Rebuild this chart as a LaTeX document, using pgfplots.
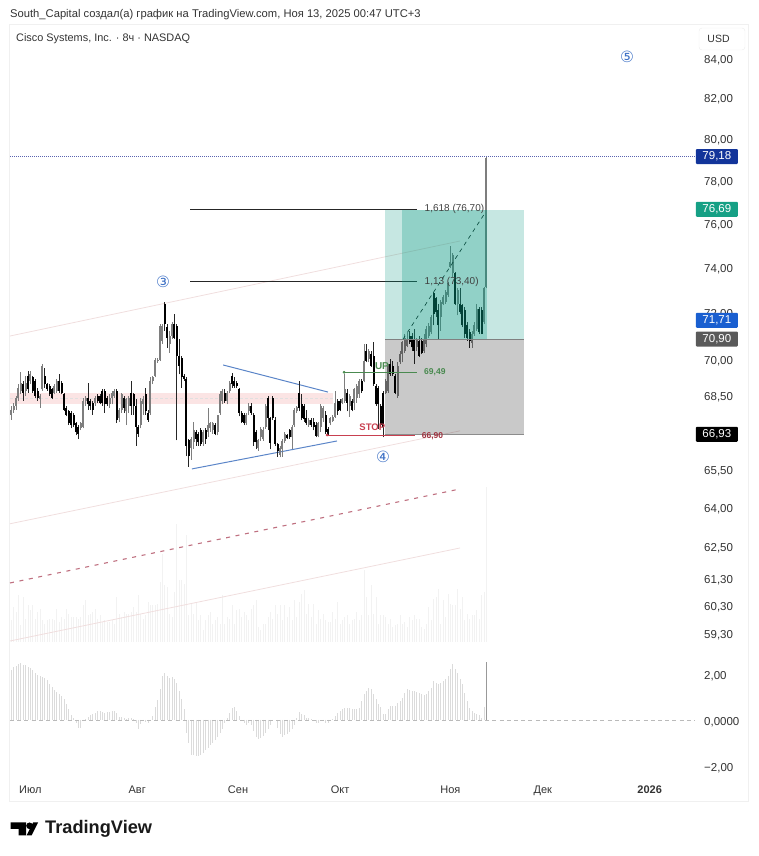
\documentclass[border=0pt]{standalone}
\usepackage{pgfplots}
\usepackage{pgfplotstable}
\usepackage{fontspec}
\pgfplotsset{compat=1.18}
\setmainfont{Liberation Sans}
\newfontfamily\djv{DejaVu Sans}
\definecolor{txt}{HTML}{333333}
\definecolor{band}{HTML}{FBE4E4}
\definecolor{chan}{HTML}{F0DEDE}
\definecolor{reddash}{HTML}{BF7080}
\definecolor{bl}{HTML}{5B85C8}
\definecolor{circ}{HTML}{3F72C6}
\definecolor{upc}{HTML}{7E7E7E}
\definecolor{tl}{HTML}{089981}
\definecolor{gr}{HTML}{4A8A50}
\definecolor{rd}{HTML}{C84050}
\definecolor{tA}{HTML}{12349A}
\definecolor{tB}{HTML}{16A085}
\definecolor{tC}{HTML}{1A5FD0}
\definecolor{tD}{HTML}{5A5A5A}
\definecolor{dotc}{HTML}{5A63B0}

\pgfplotstableread{
x h l t b
0 68.08 67.52 67.94 67.73
1 68.22 67.80 68.08 67.94
2 68.50 67.94 68.43 68.08
3 68.99 68.29 68.85 68.43
4 69.52 68.57 69.06 68.71
6 69.34 68.50 69.06 68.71
8 69.55 68.99 69.41 69.13
12 68.57 68.01 68.50 68.36
13 69.83 68.71 69.76 68.78
18 68.99 68.57 68.92 68.64
19 69.20 68.64 69.13 68.71
29 67.45 67.10 67.38 67.17
30 68.43 67.17 68.29 67.24
31 68.50 68.08 68.43 68.29
35 68.50 68.08 68.43 68.22
41 68.57 68.01 68.43 68.15
42 68.71 68.15 68.64 68.43
43 68.78 68.43 68.71 68.50
45 68.01 67.45 67.94 67.59
46 68.64 67.80 68.57 67.94
48 68.43 67.31 68.36 67.87
49 68.50 67.80 68.43 68.08
54 68.43 67.17 68.29 67.31
55 68.50 67.73 68.36 68.15
58 69.27 67.73 69.13 67.80
59 69.34 68.99 69.27 69.13
60 70.10 69.27 70.03 69.34
61 70.10 69.89 70.03 69.96
62 71.55 69.96 71.48 70.03
63 71.55 70.69 71.48 70.83
66 71.26 70.32 71.05 70.69
67 71.63 70.90 71.55 71.05
75 66.82 65.91 66.75 66.40
76 67.45 66.33 67.10 66.61
80 67.10 66.47 67.03 66.61
82 68.01 66.82 67.31 67.03
83 67.45 67.03 67.38 67.17
84 67.45 66.96 67.38 67.10
86 67.73 66.89 67.73 67.03
87 68.71 67.73 68.57 67.80
88 68.78 68.15 68.71 68.29
90 68.71 68.15 68.64 68.29
91 69.13 68.64 69.06 68.71
98 67.80 67.31 67.73 67.38
99 68.22 67.73 68.08 67.87
103 66.75 66.26 66.68 66.40
104 67.23 66.67 67.16 66.81
105 67.23 66.67 67.09 66.74
106 68.15 67.16 68.08 67.23
112 66.46 66.00 66.39 66.10
113 66.74 66.03 66.67 66.32
114 67.02 66.60 66.95 66.67
117 67.30 66.32 67.23 66.81
118 68.01 67.23 67.94 67.30
119 68.08 67.80 68.04 67.87
124 67.58 67.23 67.51 67.30
128 67.44 66.81 67.37 66.88
129 68.15 67.02 68.08 67.23
130 68.08 67.44 68.01 67.58
133 67.65 67.30 67.58 67.37
134 67.73 67.44 67.65 67.47
135 68.71 67.58 68.22 67.65
138 68.43 68.15 68.36 68.22
139 69.42 68.22 68.78 68.29
141 68.57 67.65 68.50 68.08
143 68.85 67.94 68.78 68.22
144 68.99 68.22 68.92 68.43
145 69.21 68.43 69.14 68.57
147 70.69 69.07 69.98 69.14
149 70.47 69.91 70.40 70.05
156 69.21 68.57 69.14 68.64
157 69.84 68.64 69.77 68.71
161 69.91 68.43 69.77 68.50
162 70.40 69.84 70.26 69.91
163 70.83 69.91 70.76 70.26
164 71.11 70.33 70.97 70.40
165 71.18 70.55 70.90 70.62
169 70.97 70.40 70.90 70.55
172 71.11 70.33 70.90 70.40
173 71.46 70.55 71.32 70.69
174 71.60 70.97 71.46 71.04
175 71.93 71.12 71.86 71.19
179 72.59 71.27 72.52 71.86
180 72.81 72.37 72.74 72.44
181 73.03 72.44 72.96 72.52
182 73.40 72.74 73.33 72.81
183 75.00 74.01 74.31 74.09
184 74.70 73.63 74.62 73.78
186 73.11 71.93 73.03 72.44
192 71.27 70.53 71.12 70.75
193 71.64 71.05 71.49 71.12
194 72.44 71.27 72.22 71.34
197 73.18 71.56 73.11 71.64
198 79.18 73.11 79.10 73.18
}\upbars

\pgfplotstableread{
x h l t b
5 69.13 68.29 68.99 68.64
7 69.55 68.64 69.34 68.78
9 69.34 68.64 69.27 68.71
10 69.20 68.43 69.13 68.50
11 68.85 68.29 68.71 68.43
14 69.69 68.85 69.34 68.99
15 69.06 68.71 69.02 68.78
16 68.99 68.50 68.92 68.57
17 68.85 68.36 68.78 68.43
20 69.41 68.64 69.13 68.71
21 69.13 68.57 69.06 68.64
22 68.64 67.87 68.57 67.94
23 68.08 67.66 68.01 67.73
24 67.94 67.31 67.87 67.38
25 67.87 67.17 67.80 67.31
26 67.80 67.24 67.73 67.31
27 67.45 66.89 67.38 67.03
28 67.31 66.75 67.24 66.96
32 69.06 67.94 68.43 68.15
33 68.36 67.94 68.29 68.08
34 68.29 67.73 68.22 67.94
36 68.57 68.22 68.50 68.29
37 68.57 68.15 68.50 68.22
38 68.78 68.08 68.71 68.22
39 68.78 67.80 68.71 68.15
40 68.50 68.08 68.43 68.15
44 68.78 67.38 68.71 67.52
47 68.50 67.80 68.43 68.01
50 69.13 67.73 68.64 68.08
51 68.64 67.73 68.57 68.08
52 68.36 66.47 68.08 67.24
53 67.31 66.82 67.24 66.96
56 68.85 67.73 68.57 67.87
57 67.94 67.45 67.80 67.52
64 72.50 71.27 72.43 71.55
65 71.55 70.54 71.41 70.97
68 71.99 70.90 71.55 70.97
69 71.55 66.68 71.48 70.18
70 70.90 69.41 70.18 69.76
71 70.18 68.85 70.10 69.27
72 69.41 69.13 69.34 69.20
73 69.27 66.05 69.20 66.47
74 66.75 65.63 66.68 66.05
77 67.10 66.47 67.03 66.75
78 67.03 66.47 66.96 66.61
79 67.17 66.47 67.10 66.54
81 67.17 66.54 67.10 66.75
85 67.38 66.89 67.31 66.96
89 68.78 68.22 68.64 68.29
92 69.48 68.85 69.34 68.99
93 69.27 68.85 69.13 68.92
94 69.13 68.85 69.06 68.92
95 68.85 67.66 68.78 67.80
96 67.87 67.38 67.80 67.45
97 67.80 67.31 67.73 67.38
100 68.22 67.73 68.08 67.80
101 67.80 66.47 67.73 66.61
102 67.10 66.33 67.03 66.61
107 68.50 67.09 68.43 67.58
108 67.65 66.32 67.58 66.60
109 68.50 67.51 68.43 67.58
110 67.65 66.46 67.51 66.53
111 66.60 66.03 66.53 66.25
115 66.95 66.74 66.91 66.77
116 67.16 66.74 67.09 66.81
120 69.14 67.87 68.64 68.01
121 68.57 67.51 68.15 67.58
122 68.15 67.44 68.08 67.55
123 67.94 67.30 67.58 67.37
125 67.58 67.23 67.51 67.30
126 67.58 67.09 67.44 67.23
127 67.44 66.81 67.30 66.88
131 67.87 66.95 67.73 67.02
132 67.23 66.85 67.16 66.88
136 68.36 67.73 68.29 67.87
137 68.36 67.87 68.29 67.94
140 68.78 67.87 68.64 68.22
142 68.36 67.87 68.29 67.94
146 69.21 68.64 69.14 68.71
148 70.69 69.91 70.40 69.98
150 70.40 69.70 70.26 69.77
151 70.76 68.92 70.19 68.99
152 68.99 68.08 68.92 68.15
153 68.92 67.16 68.85 68.15
154 68.15 67.23 68.08 67.30
155 68.71 66.80 68.64 67.23
158 70.05 69.35 69.84 69.42
159 69.98 69.35 69.77 69.42
160 69.42 68.57 69.35 68.64
166 71.25 70.69 71.04 70.76
167 71.18 70.40 71.04 70.55
168 71.32 69.84 70.90 70.40
170 71.04 70.12 70.83 70.19
171 70.97 70.26 70.83 70.33
176 72.96 71.49 72.89 72.00
177 72.74 71.86 72.67 72.08
178 72.44 70.90 72.15 71.49
185 73.86 72.37 73.78 72.44
187 73.11 72.00 72.44 72.08
188 72.44 71.42 72.37 71.49
189 72.30 70.97 72.15 71.12
190 71.64 70.83 71.49 70.97
191 71.34 70.53 71.19 70.83
195 72.30 71.12 72.22 71.19
196 72.30 71.12 72.15 71.12
}\downbars

\pgfplotstableread{
v
6.5
10.5
9
14
5
13.5
7
11
9.5
11
7
9
10
6.5
5.5
6.5
7
7
6.5
10
6
7.5
7
10
8.5
7.5
7.5
7.5
7
7.5
11
12.5
8
8.5
9
10
7
8
6
6.5
6
6
6.5
5.5
13.5
8.5
7.5
9
8.5
8.5
9
10.5
9
14
8.5
7
8
12
11
11
11
11.5
18
26.5
17
16.5
8.5
7.5
15
35.5
18.5
18.5
17.5
32
8
11.5
8.5
12
6.5
8
3.5
6.5
8
9
5.5
6.5
7.5
5.5
14
5.5
7.5
7
11
5.5
9.5
10
7.5
9
8
6.5
10
11
12.5
4.5
3.5
5.5
5.5
7.5
9
7
11
8.5
11
6.5
11
7.5
10.5
6.5
12.5
7.5
12
14.5
15.5
8.5
11.5
7.5
11.5
5.5
9.5
7
8.5
6.5
6
6
9
7
12
5.5
6.5
7.5
8
5.5
6.5
7
9
6.5
8
21.5
13.5
8
17
8.5
13.5
5.5
8
8
7.5
5.5
7
4.5
5
5.5
8
5.5
6
4.5
7.5
6.5
8
7
7
4.5
4
5.5
10.5
6.5
13
13.5
16
5.5
12.5
7.5
14.5
11.5
11
11
16
10
13.5
6.5
8.5
7
8
8
9.5
7
14
15
46.5
}\voltable

\pgfplotstableread{
m
2.17
2.29
2.35
2.43
2.46
2.41
2.38
2.32
2.26
2.17
2.06
1.97
1.91
1.87
1.84
1.72
1.58
1.43
1.30
1.22
1.14
1.03
.93
.70
.46
.23
.09
-.14
-.35
-.35
-.04
.06
.13
.20
.26
.32
.38
.39
.35
.32
.33
.35
.38
.39
.29
.14
.12
.07
.06
.07
.09
.04
-.12
-.38
-.19
-.06
-.09
-.13
-.04
.17
.58
.86
1.33
1.91
2.06
1.91
1.84
1.88
1.80
1.62
1.26
.90
.46
-.55
-.99
-1.54
-1.54
-1.57
-1.57
-1.51
-1.42
-1.32
-1.22
-1.10
-1.00
-.87
-.74
-.55
-.41
-.14
.10
.32
.54
.58
.39
.17
-.04
-.14
-.20
-.14
-.23
-.48
-.72
-.81
-.78
-.70
-.55
-.38
-.23
-.04
0
-.33
-.62
-.72
-.67
-.61
-.52
-.38
-.20
.10
.35
.28
.20
.10
.09
.04
0
-.14
-.14
0
-.04
-.14
-.14
-.04
.03
.17
.29
.41
.49
.52
.54
.51
.46
.46
.49
.54
.83
1.12
1.26
1.41
1.33
1.12
.90
.71
.58
.25
.25
.46
.61
.61
.61
.75
.83
.97
1.19
1.33
1.30
1.28
1.26
1.22
1.19
1.12
1.09
1.12
1.26
1.41
1.68
1.62
1.55
1.62
1.71
1.80
1.91
2.20
2.42
2.20
2.03
1.77
1.55
1.19
.83
.54
.39
.29
.26
.22
.10
.58
2.52
}\macdtable

% turn two columns of a table into vertical segments, separated by gaps
\newcommand\buildsegs[4]{%
  \gdef#4{}%
  \pgfplotstablegetrowsof{#1}%
  \pgfmathtruncatemacro\lastrow{\pgfplotsretval-1}%
  \pgfplotsforeachungrouped \rw in {0,...,\lastrow}{%
    \pgfplotstablegetelem{\rw}{x}\of{#1}\let\cx\pgfplotsretval
    \pgfplotstablegetelem{\rw}{#2}\of{#1}\let\cl\pgfplotsretval
    \pgfplotstablegetelem{\rw}{#3}\of{#1}\let\chh\pgfplotsretval
    \xdef#4{#4 (\cx,\cl)(\cx,\chh)(\cx,nan)}%
  }%
}
\newcommand\plotsegs[2]{%
  \edef\tmpplot{\noexpand\addplot[forget plot,mark=none,unbounded coords=jump,#1] coordinates {#2};}%
  \tmpplot
}
\def\nanword{nan}

\begin{document}
\buildsegs{\upbars}{l}{h}\upwicks
\buildsegs{\upbars}{b}{t}\upbodies
\buildsegs{\downbars}{l}{h}\downwicks
\buildsegs{\downbars}{b}{t}\downbodies
\begin{tikzpicture}
\begin{scope}[x=1pt,y=1pt]
\path[use as bounding box] (0,0) rectangle (758,856);
% pane frame
\draw[color=black!6,line width=.6pt] (9.5,55) rectangle (748,832);
% header
\node[anchor=west,inner sep=0pt,font=\fontsize{11.2}{13}\selectfont,text=txt] at (10,841.5) {South\_Capital создал(а) график на TradingView.com, Ноя 13, 2025 00:47 UTC+3};
\node[anchor=west,inner sep=0pt,font=\fontsize{10.9}{13}\selectfont,text=txt] at (16,817.5) {Cisco Systems, Inc. · 8ч · NASDAQ};
% USD button
\draw[color=black!7,rounded corners=3pt,fill=white] (699,806) rectangle (745,828);
\node[font=\fontsize{10.5}{12}\selectfont,text=txt,inner sep=0pt] at (718.5,817) {USD};
% logo
\fill[black] (10.5,33.5) -- (26,33.5) -- (26,20.5) -- (18.5,20.5) -- (18.5,27) -- (10.5,27) -- cycle;
\fill[black] (29.5,30.2) circle (3.3);
\fill[black] (33,33.5) -- (38,33.5) -- (31.5,20.5) -- (26.5,20.5) -- cycle;
\node[anchor=west,inner sep=0pt,font=\fontsize{18.2}{22}\selectfont\bfseries,text=black!90] at (45,27) {TradingView};
\end{scope}

% volume pane
\begin{axis}[name=vol,at={(10pt,214pt)},anchor=south west,scale only axis,width=685pt,height=160pt,
  hide axis,xmin=-0.5,xmax=284.9,ymin=0,ymax=48,clip=false]
\addplot[ycomb,mark=none,color=black!5,line width=.9pt] table[x expr=\coordindex,y=v]{\voltable};
\end{axis}

% price pane: the price scale is logarithmic
\begin{axis}[name=price,at={(10pt,210pt)},anchor=south west,scale only axis,width=685pt,height=620pt,
  y coord trafo/.code={\def\tmpin{#1}\ifx\tmpin\nanword\def\pgfmathresult{nan}\else\pgfmathparse{ln(#1)}\fi},
  xmin=-0.5,xmax=284.9,ymin=58.88,ymax=85.69,clip=false,
  axis line style={draw=none},major tick style={draw=none},minor tick style={draw=none},
  xtick=\empty,
  ytick={84,82,80,78,76,74,72,70,68.5,65.5,64,62.5,61.3,60.3,59.3},
  yticklabels={{84,00},{82,00},{80,00},{78,00},{76,00},{74,00},{72,00},{70,00},{68,50},{65,50},{64,00},{62,50},{61,30},{60,30},{59,30}},
  ytick pos=right,yticklabel pos=right,scaled y ticks=false,
  yticklabel style={anchor=west,inner sep=0pt,xshift=9pt,yshift=-1pt,font=\fontsize{11.5}{13}\selectfont,text=txt},
  ]
% pink band
\addplot[draw=none,fill=band] coordinates {(-0.5,68.17)(134,68.17)(134,68.62)(-0.5,68.62)} --cycle;
\addplot[color=black!12,densely dashed,line width=.3pt] coordinates {(-0.5,68.40)(134,68.40)};
% channels
\addplot[color=chan,line width=.8pt] coordinates {(-0.5,71.03)(187,75.24)};
\addplot[color=chan,line width=.8pt] coordinates {(-0.5,63.40)(187,67.07)};
\addplot[color=reddash,line width=1.1pt,dash pattern=on 4pt off 5.6pt] coordinates {(-0.5,61.17)(187,64.75)};
\addplot[color=chan,line width=.8pt] coordinates {(-0.5,59.06)(187,62.48)};
% triangle
\addplot[color=bl,line width=1pt] coordinates {(88.3,69.80)(132,68.66)};
\addplot[color=bl,line width=1pt] coordinates {(75.3,65.54)(135.75,66.66)};
% candles
\plotsegs{color=upc,line width=.8pt}{\upwicks}
\plotsegs{color=upc,line width=1.9pt}{\upbodies}
\plotsegs{color=black!85,line width=.8pt}{\downwicks}
\plotsegs{color=black,line width=1.9pt}{\downbodies}
% fib lines
\addplot[color=black!85,line width=.9pt] coordinates {(74.5,76.70)(169.1,76.70)};
\addplot[color=black!85,line width=.9pt] coordinates {(74.5,73.40)(169.1,73.40)};
% position boxes
\addplot[draw=none,fill=tl,fill opacity=.23] coordinates {(155.75,70.90)(213.7,70.90)(213.7,76.69)(155.75,76.69)} --cycle;
\addplot[draw=none,fill=tl,fill opacity=.28] coordinates {(163,70.90)(198.3,70.90)(198.3,76.69)(163,76.69)} --cycle;
\addplot[draw=none,fill=black,fill opacity=.21] coordinates {(155.75,66.93)(213.7,66.93)(213.7,70.90)(155.75,70.90)} --cycle;
\addplot[color=black!50,line width=.5pt] coordinates {(155.75,70.90)(213.7,70.90)};
\addplot[color=black!45,line width=.4pt] coordinates {(155.75,66.93)(213.7,66.93)};
% diagonal
\addplot[color=black!55!tl,line width=.6pt,dash pattern=on 4pt off 4pt] coordinates {(163.25,70.90)(197.4,76.53)};
% current price
\addplot[color=dotc,line width=.6pt,dash pattern=on .8pt off 1.2pt] coordinates {(-0.5,79.18)(284.9,79.18)};
% levels
\addplot[color=gr,line width=.8pt] coordinates {(138.7,69.49)(169.1,69.49)};
\addplot[color=gr,only marks,mark=*,mark size=1.2pt] coordinates {(138.7,69.49)};
\addplot[color=rd,line width=.8pt] coordinates {(131.6,66.90)(168.2,66.90)};
\addplot[color=rd,only marks,mark=*,mark size=1.2pt] coordinates {(131.6,66.90)};
% labels
\node[anchor=west,inner sep=0pt,font=\fontsize{10}{12}\selectfont,text=black!75] at (axis cs:172.2,76.70) {1,618 (76,70)};
\node[anchor=west,inner sep=0pt,font=\fontsize{10}{12}\selectfont,text=black!75] at (axis cs:172.2,73.40) {1,13 (73,40)};
\node[anchor=west,inner sep=0pt,font=\fontsize{10}{12}\selectfont\bfseries,text=gr] at (axis cs:151.5,69.75) {UP};
\node[anchor=west,inner sep=0pt,font=\fontsize{8.5}{10}\selectfont\bfseries,text=gr] at (axis cs:172,69.49) {69,49};
\node[anchor=west,inner sep=0pt,font=\fontsize{9.5}{11}\selectfont\bfseries,text=rd] at (axis cs:145,67.20) {STOP};
\node[anchor=west,inner sep=0pt,font=\fontsize{8.5}{10}\selectfont\bfseries,text=rd!80!black] at (axis cs:171,66.86) {66,90};
\node[inner sep=0pt,font=\djv\fontsize{15.5}{16}\selectfont,text=circ] at (axis cs:63.25,73.40) {③};
\node[inner sep=0pt,font=\djv\fontsize{15.5}{16}\selectfont,text=circ] at (axis cs:154.9,66.03) {④};
\node[inner sep=0pt,font=\djv\fontsize{15.5}{16}\selectfont,text=circ] at (axis cs:256.6,84.1) {⑤};
% price tags
\node[fill=tA,text=white,minimum width=42pt,minimum height=15pt,inner sep=0pt,rounded corners=1pt,font=\fontsize{11.5}{13}\selectfont] at (axis cs:294,79.18) {79,18};
\node[fill=tB,text=white,minimum width=42pt,minimum height=15pt,inner sep=0pt,rounded corners=1pt,font=\fontsize{11.5}{13}\selectfont] at (axis cs:294,76.69) {76,69};
\node[fill=tC,text=white,minimum width=42pt,minimum height=15pt,inner sep=0pt,rounded corners=1pt,font=\fontsize{11.5}{13}\selectfont] at (axis cs:294,71.71) {71,71};
\node[fill=tD,text=white,minimum width=42pt,minimum height=15pt,inner sep=0pt,rounded corners=1pt,font=\fontsize{11.5}{13}\selectfont] at (axis cs:294,70.90) {70,90};
\node[fill=black,text=white,minimum width=42pt,minimum height=15pt,inner sep=0pt,rounded corners=1pt,font=\fontsize{11.5}{13}\selectfont] at (axis cs:294,66.93) {66,93};
\end{axis}

% oscillator pane
\begin{axis}[name=macd,at={(10pt,76pt)},anchor=south west,scale only axis,width=685pt,height=135pt,
  xmin=-0.5,xmax=284.9,ymin=-2.61,ymax=3.26,clip=false,
  axis line style={draw=none},major tick style={draw=none},
  xtick={8,52.5,94.5,137,183,221.5,266},
  xticklabels={Июл,Авг,Сен,Окт,Ноя,Дек,\textbf{2026}},
  xticklabel style={font=\fontsize{11}{13}\selectfont,text=txt,inner sep=0pt,anchor=base,yshift=-14pt},
  ytick={2,0,-2},yticklabels={{2,00},{0,0000},{−2,00}},
  ytick pos=right,yticklabel pos=right,
  yticklabel style={anchor=west,inner sep=0pt,xshift=9pt,yshift=-2pt,font=\fontsize{11.5}{13}\selectfont,text=txt},
  ]
\addplot[ycomb,mark=none,color=black!14,line width=.8pt] table[x expr=\coordindex,y=m]{\macdtable};
\addplot[ycomb,mark=none,color=black!40,line width=.8pt] coordinates {(198,2.52)};
\addplot[color=black!27,line width=.5pt,dash pattern=on 4pt off 3.2pt] coordinates {(-0.5,0)(284.9,0)};
\end{axis}
\end{tikzpicture}
\end{document}
